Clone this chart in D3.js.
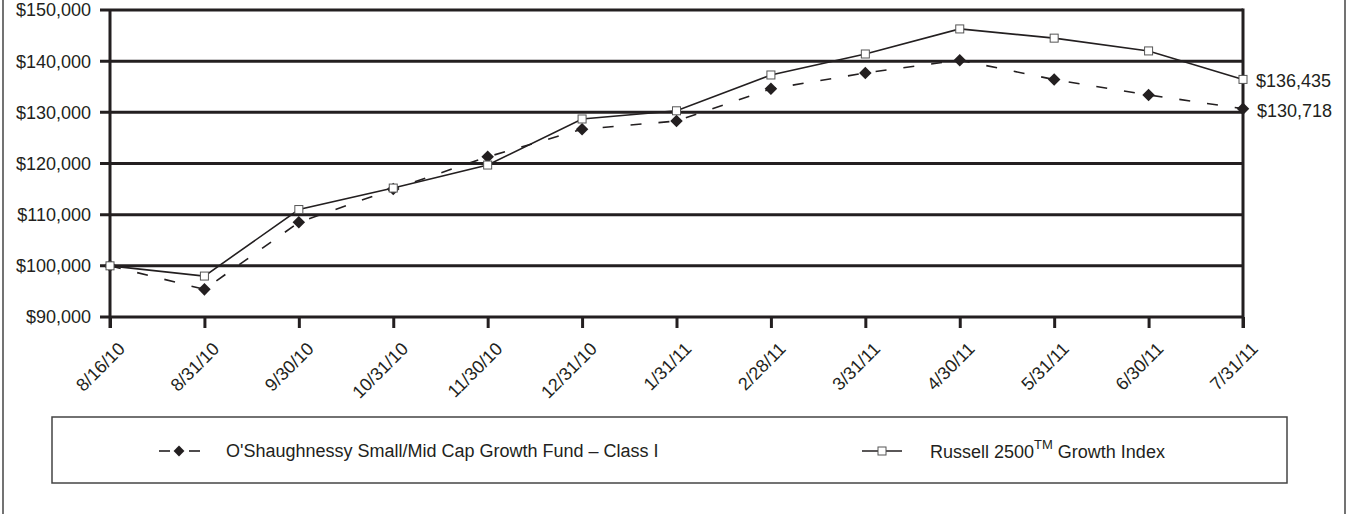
<!DOCTYPE html>
<html>
<head>
<meta charset="utf-8">
<script src="https://d3js.org/d3.v7.min.js"></script>
<style>
	body { margin: 0; background: #fff; }
	text { font-family: "Liberation Sans", Arial, Helvetica, sans-serif; fill: #231f20; }
</style>
</head>
<body>
<div id="chart-area"></div>
<script>

// Data
var dates = ["8/16/10", "8/31/10", "9/30/10", "10/31/10", "11/30/10", "12/31/10", "1/31/11",
	"2/28/11", "3/31/11", "4/30/11", "5/31/11", "6/30/11", "7/31/11"];

var fundValues = [100000, 95400, 108500, 115000, 121300, 126700, 128300,
	134600, 137700, 140200, 136400, 133400, 130718];

var indexValues = [100000, 98000, 111000, 115200, 119700, 128700, 130300,
	137300, 141400, 146300, 144500, 142000, 136435];

var yTicks = [90000, 100000, 110000, 120000, 130000, 140000, 150000];

var fundName = "O'Shaughnessy Small/Mid Cap Growth Fund \u2013 Class I";
var endLabels = ["$136,435", "$130,718"];

// SVG drawing area
var width = 1348, height = 514;
var ink = "#231f20";

var svg = d3.select("#chart-area").append("svg")
	.attr("width", width)
	.attr("height", height);

// outer frame (open at top and bottom)
svg.append("line").attr("x1", 3).attr("x2", 3).attr("y1", 0).attr("y2", height)
	.attr("stroke", "#444").attr("stroke-width", 1.5);
svg.append("line").attr("x1", 1345).attr("x2", 1345).attr("y1", 0).attr("y2", height)
	.attr("stroke", "#444").attr("stroke-width", 1.5);

var x = d3.scalePoint()
	.domain(dates)
	.range([110, 1243]);

var y = d3.scaleLinear()
	.domain([90000, 150000])
	.range([317, 10]);

var fmt = d3.format("$,");

// grid lines
svg.append("g")
	.selectAll("line")
	.data(yTicks)
	.enter().append("line")
	.attr("x1", 100)
	.attr("x2", 1243)
	.attr("y1", function(d) { return y(d); })
	.attr("y2", function(d) { return y(d); })
	.attr("stroke", ink)
	.attr("stroke-width", 3);

// y labels
svg.append("g")
	.selectAll("text")
	.data(yTicks)
	.enter().append("text")
	.attr("x", 91)
	.attr("y", function(d) { return y(d); })
	.attr("dy", "0.36em")
	.attr("text-anchor", "end")
	.attr("font-size", 18)
	.text(function(d) { return fmt(d); });

// left and right edges of plot
svg.append("line").attr("x1", 110).attr("x2", 110).attr("y1", 10).attr("y2", 328)
	.attr("stroke", ink).attr("stroke-width", 3);
svg.append("line").attr("x1", 1243).attr("x2", 1243).attr("y1", 8.5).attr("y2", 328)
	.attr("stroke", ink).attr("stroke-width", 3);

// x axis
var xAxis = d3.axisBottom(x)
	.tickSize(11)
	.tickFormat("");

var gx = svg.append("g")
	.attr("transform", "translate(0," + y(90000) + ")")
	.call(xAxis);
gx.select(".domain").remove();
gx.selectAll(".tick line").attr("stroke", ink).attr("stroke-width", 3);

svg.append("g")
	.selectAll("text")
	.data(dates)
	.enter().append("text")
	.attr("text-anchor", "end")
	.attr("font-size", 18)
	.attr("transform", function(d) {
		return "translate(" + (x(d) + 16) + ",350) rotate(-45)";
	})
	.text(function(d) { return d; });

// lines
var line = d3.line()
	.x(function(d, i) { return x(dates[i]); })
	.y(function(d) { return y(d); });

svg.append("path")
	.datum(fundValues)
	.attr("d", line)
	.attr("fill", "none")
	.attr("stroke", ink)
	.attr("stroke-width", 1.6)
	.attr("stroke-dasharray", "11,17");

svg.append("path")
	.datum(indexValues)
	.attr("d", line)
	.attr("fill", "none")
	.attr("stroke", ink)
	.attr("stroke-width", 1.6);

// markers
var diamond = d3.symbol().type(d3.symbolDiamond2).size(100);

svg.append("g")
	.selectAll("path")
	.data(fundValues)
	.enter().append("path")
	.attr("d", diamond)
	.attr("transform", function(d, i) {
		return "translate(" + x(dates[i]) + "," + y(d) + ")";
	})
	.attr("fill", ink);

svg.append("g")
	.selectAll("rect")
	.data(indexValues)
	.enter().append("rect")
	.attr("x", function(d, i) { return x(dates[i]) - 4; })
	.attr("y", function(d) { return y(d) - 4; })
	.attr("width", 8)
	.attr("height", 8)
	.attr("fill", "#fff")
	.attr("stroke", "#555")
	.attr("stroke-width", 1);

// end value labels
var last = dates.length - 1;
svg.append("text")
	.attr("x", 1256)
	.attr("y", y(indexValues[last]))
	.attr("dy", "0.42em")
	.attr("font-size", 18)
	.text(endLabels[0]);
svg.append("text")
	.attr("x", 1257)
	.attr("y", y(fundValues[last]))
	.attr("dy", "0.45em")
	.attr("font-size", 18)
	.text(endLabels[1]);

// legend
var legend = svg.append("g");
legend.append("rect")
	.attr("x", 52).attr("y", 417)
	.attr("width", 1235).attr("height", 66)
	.attr("fill", "none")
	.attr("stroke", "#444")
	.attr("stroke-width", 1.5);

var ly = 451;
legend.append("line").attr("x1", 159).attr("x2", 170).attr("y1", ly).attr("y2", ly)
	.attr("stroke", ink).attr("stroke-width", 1.6);
legend.append("line").attr("x1", 189).attr("x2", 200).attr("y1", ly).attr("y2", ly)
	.attr("stroke", ink).attr("stroke-width", 1.6);
legend.append("path")
	.attr("d", d3.symbol().type(d3.symbolDiamond2).size(75))
	.attr("transform", "translate(179," + ly + ")")
	.attr("fill", ink);
legend.append("text")
	.attr("x", 226).attr("y", ly).attr("dy", "0.36em")
	.attr("font-size", 18)
	.text(fundName);

legend.append("line").attr("x1", 862).attr("x2", 902).attr("y1", ly).attr("y2", ly)
	.attr("stroke", ink).attr("stroke-width", 1.6);
legend.append("rect")
	.attr("x", 878).attr("y", ly - 4).attr("width", 8).attr("height", 8)
	.attr("fill", "#fff").attr("stroke", "#555").attr("stroke-width", 1);

var idx = legend.append("text")
	.attr("x", 930).attr("y", ly + 6.5)
	.attr("font-size", 18);
idx.append("tspan").text("Russell 2500");
idx.append("tspan").attr("font-size", 13).attr("dy", -9).text("TM");
idx.append("tspan").attr("dy", 9).text(" Growth Index");

</script>
</body>
</html>
